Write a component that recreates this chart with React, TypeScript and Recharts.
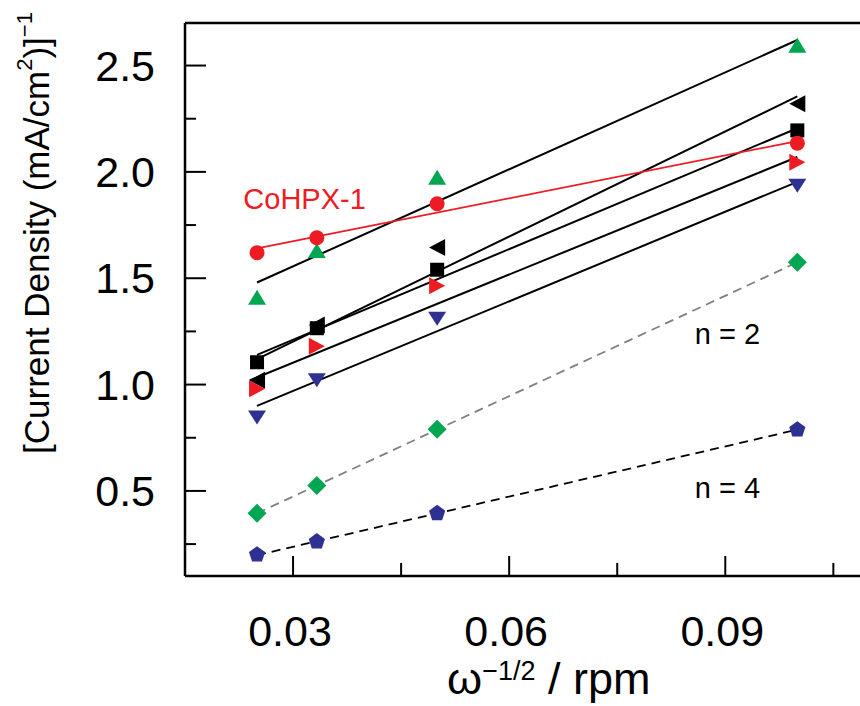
import React from 'react';
import {
  ComposedChart, Scatter, Line, XAxis, YAxis, ReferenceLine, ReferenceDot, Label
} from 'recharts';

// rotation rate ω^-1/2 for 1600, 900, 400, 100 rpm
const xVals = [0.025, 0.0333, 0.05, 0.1];

const redCircle = [1.62, 1.69, 1.85, 2.135];
const greenUp = [1.41, 1.63, 1.975, 2.595];
const blackLeft = [1.02, 1.28, 1.645, 2.32];
const blackSquare = [1.105, 1.265, 1.54, 2.195];
const redRight = [0.98, 1.18, 1.465, 2.045];
const blueDown = [0.845, 1.02, 1.31, 1.935];
const greenDiamond = [0.395, 0.525, 0.79, 1.575];
const bluePentagon = [0.2, 0.262, 0.395, 0.788];

// fitted lines, endpoints: [x, y]
const fitGreen = [[0.025, 1.48], [0.1, 2.62]];
const fitLeft = [[0.025, 1.12], [0.1, 2.355]];
const fitSquare = [[0.025, 1.14], [0.1, 2.205]];
const fitRight = [[0.024, 1.02], [0.1, 2.07]];
const fitBlue = [[0.025, 0.9], [0.1, 1.953]];
const fitRed = [[0.025, 1.64], [0.1, 2.145]];
const fitDiamond = [[0.025, 0.395], [0.1, 1.575]];
const fitPentagon = [[0.025, 0.198], [0.1, 0.788]];

const xTicks = [0.03, 0.045, 0.06, 0.075, 0.09, 0.105];
const yTicks = [0.25, 0.5, 0.75, 1.0, 1.25, 1.5, 1.75, 2.0, 2.25, 2.5];

const RED = '#ED1C24';
const GREEN = '#00A651';
const BLUE = '#2E3192';

const toPts = (ys: number[]) => ys.map((y, i) => ({ x: xVals[i], y }));
const toLine = (pts: number[][]) => pts.map(([x, y]) => ({ x, y }));

const isMultiple = (v: number, step: number) =>
  Math.abs(v / step - Math.round(v / step)) < 1e-6;

const marker = (kind: string, color: string) => (p: any) => {
  const { cx, cy } = p;
  if (cx == null || cy == null) return <g />;
  switch (kind) {
    case 'circle':
      return <circle cx={cx} cy={cy} r={7.5} fill={color} />;
    case 'up':
      return <polygon points={`${cx},${cy - 7.5} ${cx + 9},${cy + 7.5} ${cx - 9},${cy + 7.5}`} fill={color} />;
    case 'down':
      return <polygon points={`${cx - 9},${cy - 7} ${cx + 9},${cy - 7} ${cx},${cy + 7}`} fill={color} />;
    case 'left':
      return <polygon points={`${cx - 8},${cy} ${cx + 8},${cy - 8.5} ${cx + 8},${cy + 8.5}`} fill={color} />;
    case 'right':
      return <polygon points={`${cx + 8},${cy} ${cx - 8},${cy - 8.5} ${cx - 8},${cy + 8.5}`} fill={color} />;
    case 'square':
      return <rect x={cx - 7} y={cy - 7} width={14} height={14} fill={color} />;
    case 'diamond':
      return <polygon points={`${cx},${cy - 9.5} ${cx + 9.5},${cy} ${cx},${cy + 9.5} ${cx - 9.5},${cy}`} fill={color} />;
    case 'pentagon': {
      const r = 8.5;
      const pts = [0, 1, 2, 3, 4].map(k => {
        const a = (-90 + 72 * k) * Math.PI / 180;
        return `${cx + r * Math.cos(a)},${cy + r * Math.sin(a)}`;
      }).join(' ');
      return <polygon points={pts} fill={color} />;
    }
    default:
      return <g />;
  }
};

const XTick = (props: any) => {
  const { x, y, payload } = props;
  const major = isMultiple(payload.value, 0.03);
  return (
    <g>
      <line x1={x} x2={x} y1={y} y2={y - (major ? 20 : 13)} stroke="#000" strokeWidth={2} />
      {major && (
        <text x={x - 3} y={y + 55} textAnchor="middle" dominantBaseline="central" fontSize={43} fill="#000">
          {payload.value.toFixed(2)}
        </text>
      )}
    </g>
  );
};

const YTick = (props: any) => {
  const { x, y, payload } = props;
  const major = isMultiple(payload.value, 0.5);
  return (
    <g>
      <line x1={x} x2={x + (major ? 21 : 11)} y1={y} y2={y} stroke="#000" strokeWidth={2} />
      {major && (
        <text x={x - 30} y={y} textAnchor="end" dominantBaseline="central" fontSize={43} fill="#000">
          {payload.value.toFixed(1)}
        </text>
      )}
    </g>
  );
};

const XLabel = () => (
  <text x={447} y={694} fontSize={45} fill="#000">
    ω<tspan dy={-14} fontSize={27}>−1/2</tspan>
    <tspan dy={14}> / rpm</tspan>
  </text>
);

const YLabel = () => (
  <text
    x={36}
    y={233}
    transform="rotate(-90, 36, 233)"
    textAnchor="middle"
    dominantBaseline="central"
    fontSize={35}
    fill="#000"
  >
    [Current Density (mA/cm<tspan dy={-12} fontSize={22}>2</tspan>
    <tspan dy={12}>)]</tspan>
    <tspan dy={-12} fontSize={22}>−1</tspan>
  </text>
);

const fitLines: { pts: number[][]; color: string; width: number; dash?: string }[] = [
  { pts: fitGreen, color: '#000', width: 2 },
  { pts: fitLeft, color: '#000', width: 2 },
  { pts: fitSquare, color: '#000', width: 2 },
  { pts: fitRight, color: '#000', width: 2 },
  { pts: fitBlue, color: '#000', width: 2 },
  { pts: fitRed, color: RED, width: 1.8 },
  { pts: fitDiamond, color: '#808080', width: 1.8, dash: '9 6' },
  { pts: fitPentagon, color: '#000', width: 1.8, dash: '9 6' },
];

const series: { ys: number[]; kind: string; color: string }[] = [
  { ys: greenUp, kind: 'up', color: GREEN },
  { ys: blackLeft, kind: 'left', color: '#000' },
  { ys: blackSquare, kind: 'square', color: '#000' },
  { ys: redRight, kind: 'right', color: RED },
  { ys: blueDown, kind: 'down', color: BLUE },
  { ys: redCircle, kind: 'circle', color: RED },
  { ys: greenDiamond, kind: 'diamond', color: GREEN },
  { ys: bluePentagon, kind: 'pentagon', color: BLUE },
];

const App: React.FC = () => (
  <div style={{ position: 'absolute', left: 0, top: 0, fontFamily: '"Liberation Sans", Arial, sans-serif', background: '#fff' }}>
    <ComposedChart width={860} height={706} margin={{ top: 23, right: 0, bottom: 0, left: 0 }}>
      <XAxis
        type="number"
        dataKey="x"
        domain={[0.015, 0.1087]}
        ticks={xTicks}
        allowDataOverflow
        height={130}
        tickSize={0}
        tickMargin={0}
        tickLine={false}
        axisLine={{ stroke: '#000', strokeWidth: 2.5 }}
        tick={<XTick />}
        interval={0}
      >
        <Label content={<XLabel />} />
      </XAxis>
      <YAxis
        type="number"
        dataKey="y"
        domain={[0.1, 2.7]}
        ticks={yTicks}
        allowDataOverflow
        width={185}
        tickSize={0}
        tickMargin={0}
        tickLine={false}
        axisLine={{ stroke: '#000', strokeWidth: 2.5 }}
        tick={<YTick />}
        interval={0}
      >
        <Label content={<YLabel />} />
      </YAxis>
      <ReferenceLine y={2.7} stroke="#000" strokeWidth={2.5} ifOverflow="visible" />
      {fitLines.map((f, i) => (
        <Line
          key={`fit${i}`}
          data={toLine(f.pts)}
          dataKey="y"
          stroke={f.color}
          strokeWidth={f.width}
          strokeDasharray={f.dash}
          dot={false}
          activeDot={false}
          isAnimationActive={false}
          type="linear"
        />
      ))}
      {series.map((s, i) => (
        <Scatter
          key={`s${i}`}
          data={toPts(s.ys)}
          dataKey="y"
          shape={marker(s.kind, s.color)}
          isAnimationActive={false}
        />
      ))}
      <ReferenceDot x={0.0316} y={1.876} r={0} stroke="none" fill="none"
        label={{ value: 'CoHPX-1', position: 'center', fill: RED, fontSize: 29 }} />
      <ReferenceDot x={0.0903} y={1.241} r={0} stroke="none" fill="none"
        label={{ value: 'n = 2', position: 'center', fill: '#000', fontSize: 29 }} />
      <ReferenceDot x={0.0903} y={0.516} r={0} stroke="none" fill="none"
        label={{ value: 'n = 4', position: 'center', fill: '#000', fontSize: 29 }} />
    </ComposedChart>
  </div>
);

export default App;
